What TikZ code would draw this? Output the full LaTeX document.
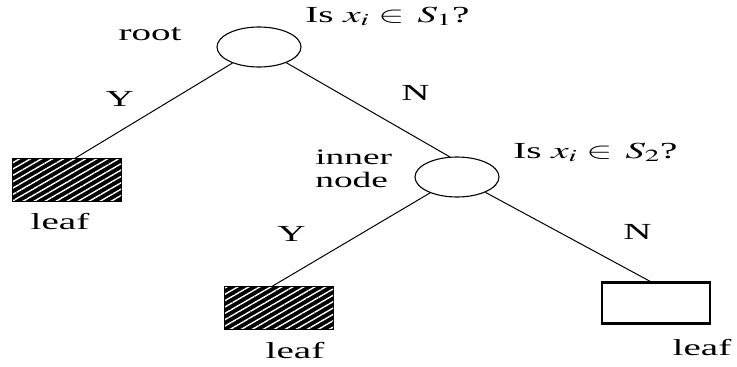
\documentclass[tikz,border=0pt]{standalone}
\usepackage{mathptmx}
\usepackage{fontspec}
\setmainfont{Liberation Serif}
\usetikzlibrary{positioning,shapes.geometric,patterns.meta}

\begin{document}
\begin{tikzpicture}[
  x=1pt, y=-1pt,
  font=\fontsize{23}{20}\selectfont,
  lbl/.style={inner sep=0pt, xscale=1.7, anchor=base},
  split/.style={draw, ellipse, line width=1.1pt, minimum width=84pt, minimum height=40pt, inner sep=0pt},
  leafbox/.style={draw, line width=2.2pt, minimum width=108pt, minimum height=41pt, inner sep=0pt},
  hatched/.style={leafbox, fill=black, postaction={pattern={Lines[angle=30, distance=5.5pt, line width=1.4pt]}, pattern color=white}},
  link/.style={line width=1pt}
]
\useasboundingbox (0,0) rectangle (737,367);
% decision nodes
\node[split] (root)  at (259,47)  {};
\node[split] (inner) at (457,177) {};
% leaves
\node[hatched] (leafA) at (67,180)  {};
\node[hatched] (leafB) at (279,308) {};
\node[leafbox] (leafC) at (656,303) {};

% labels
\node[lbl] (rootlbl) at (150,40) {root};
\node[lbl, anchor=base west] (q1) at (305,22) {Is $x_i \in\, S_1$?};
\node[lbl, anchor=base west, align=left, font=\fontsize{22}{23}\selectfont] (innerlbl) at (315,187) {inner\\node};
\node[lbl, anchor=base west] (q2) at (513,158) {Is $x_i \in\, S_2$?};
\node[lbl] (leafAlbl) at (60,229)  {leaf};
\node[lbl] (leafBlbl) at (295,358) {leaf};
\node[lbl] (leafClbl) at (702,355) {leaf};

% edges
\draw[link] (root) -- node[lbl, xshift=-20pt, yshift=4pt] (y1) {Y} (leafA.70);
\draw[link] (root) -- node[lbl, xshift=28pt, yshift=9pt] (n1) {N} (inner.110);
\draw[link] (inner) -- node[lbl, xshift=-35pt, yshift=-2pt] (y2) {Y} (leafB.108);
\draw[link] (inner) -- node[lbl, xshift=41pt, yshift=-3pt] (n2) {N} (leafC.105);
\end{tikzpicture}
\end{document}
